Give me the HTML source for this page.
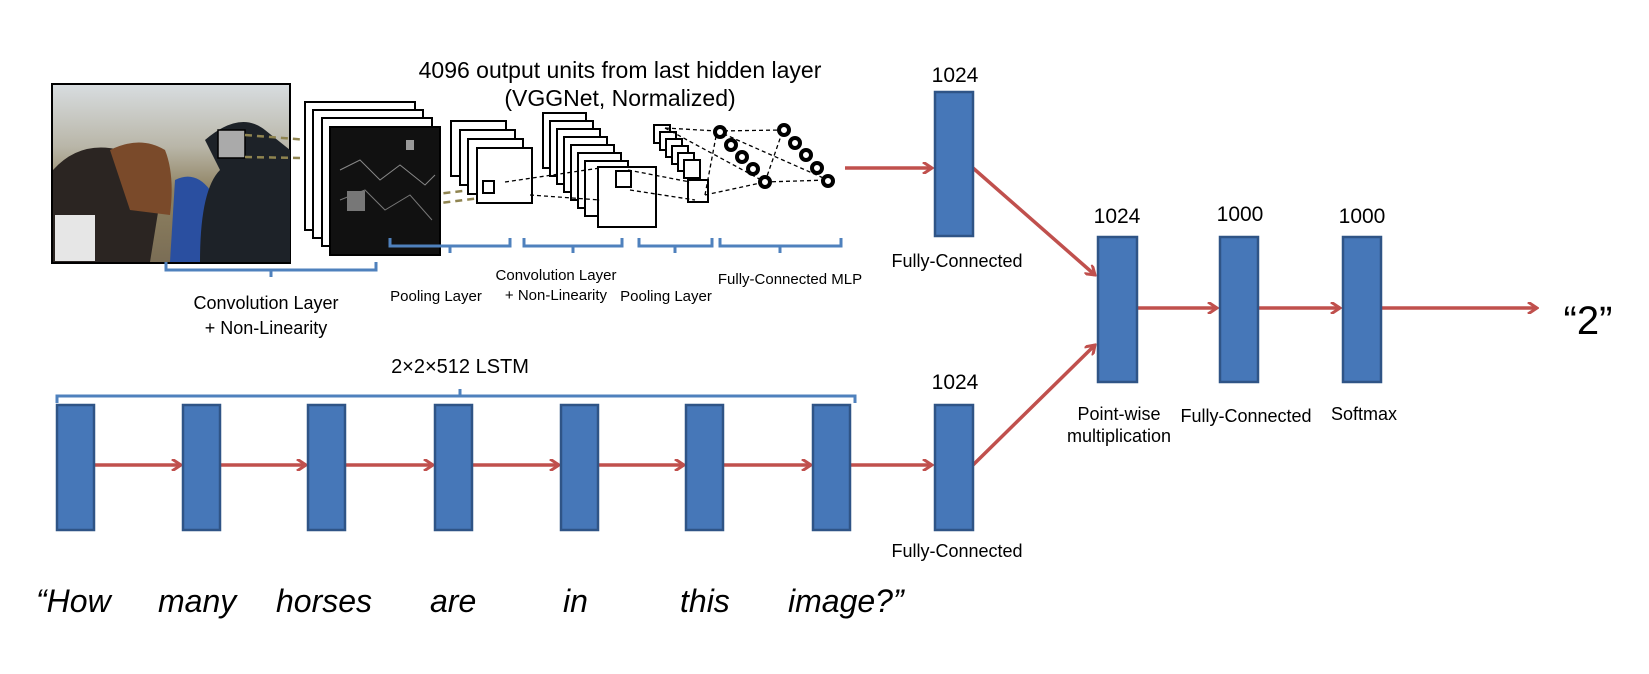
<!DOCTYPE html>
<html><head><style>
body{margin:0;background:#fff;}
svg text{font-family:"Liberation Sans",sans-serif;}
</style></head><body>
<svg width="1649" height="669" viewBox="0 0 1649 669" xmlns="http://www.w3.org/2000/svg">
<defs>
<marker id="ah" markerWidth="12" markerHeight="12" refX="10" refY="6" orient="auto" markerUnits="userSpaceOnUse">
<path d="M1,0 L10,6 L1,12" fill="none" stroke="#c0504d" stroke-width="3"/>
</marker>
<linearGradient id="sky" x1="0" y1="0" x2="0" y2="1">
<stop offset="0" stop-color="#d8dde0"/><stop offset="0.35" stop-color="#b9b6a8"/><stop offset="0.6" stop-color="#8e8160"/><stop offset="1" stop-color="#7a6d55"/>
</linearGradient>
</defs>
<rect x="52" y="84" width="238" height="179" fill="url(#sky)" stroke="#000" stroke-width="2"/>
<path d="M53,170 Q80,140 120,150 Q150,155 160,200 L150,262 L53,262Z" fill="#2b2522"/>
<path d="M110,150 Q140,135 165,150 Q175,175 170,215 L130,210Z" fill="#7a4a2a"/>
<rect x="55" y="215" width="40" height="46" fill="#e6e6e6"/>
<path d="M175,180 Q195,170 210,190 L215,262 L170,262Z" fill="#2a4fa0"/>
<path d="M205,140 Q240,110 265,130 L290,150 L290,262 L200,262 Q200,190 220,170Z" fill="#1d2228"/>
<rect x="218" y="130" width="27" height="28" fill="#aaa" stroke="#000" stroke-width="1.5"/>
<g stroke="#8f8450" stroke-width="2.5" stroke-dasharray="7,5" fill="none">
<line x1="245" y1="135" x2="410" y2="148"/><line x1="245" y1="157" x2="410" y2="160"/>
<line x1="360" y1="203" x2="488" y2="188"/><line x1="360" y1="213" x2="488" y2="197"/>
</g>
<g fill="#fff" stroke="#000" stroke-width="2">
<rect x="305" y="102" width="110" height="128"/><rect x="313" y="110" width="110" height="128"/><rect x="322" y="118" width="110" height="128"/>
</g>
<rect x="330" y="127" width="110" height="128" fill="#111" stroke="#000" stroke-width="2"/>
<path d="M340,170 L360,160 L380,180 L400,165 L425,185 L435,175" stroke="#888" fill="none"/>
<path d="M340,200 L365,190 L385,210 L410,195 L432,220" stroke="#777" fill="none"/>
<rect x="406" y="140" width="8" height="10" fill="#999"/>
<rect x="347" y="191" width="18" height="20" fill="#777"/>
<g fill="#fff" stroke="#000" stroke-width="2">
<rect x="451" y="121" width="55" height="55"/><rect x="460" y="130" width="55" height="55"/><rect x="468" y="139" width="55" height="55"/><rect x="477" y="148" width="55" height="55"/>
<rect x="483" y="181" width="11" height="12" fill="none"/>
<rect x="543" y="113" width="43" height="55"/><rect x="550" y="121" width="43" height="55"/><rect x="557" y="129" width="43" height="55"/><rect x="564" y="137" width="43" height="55"/><rect x="571" y="145" width="43" height="55"/><rect x="578" y="153" width="43" height="55"/><rect x="585" y="161" width="43" height="55"/>
<rect x="598" y="167" width="58" height="60"/>
<rect x="616" y="171" width="15" height="16" fill="none"/>
<rect x="654" y="125" width="16" height="18"/><rect x="660" y="132" width="16" height="18"/><rect x="666" y="139" width="16" height="18"/><rect x="672" y="146" width="16" height="18"/><rect x="678" y="153" width="16" height="18"/><rect x="684" y="160" width="16" height="18"/>
<rect x="688" y="180" width="20" height="22"/>
</g>
<g stroke="#000" stroke-width="1.3" stroke-dasharray="4,3" fill="none">
<line x1="505" y1="182" x2="600" y2="168"/><line x1="530" y1="195" x2="600" y2="200"/>
<line x1="628" y1="170" x2="690" y2="182"/><line x1="630" y1="190" x2="695" y2="200"/>
<line x1="665" y1="128" x2="717" y2="131"/><line x1="665" y1="128" x2="765" y2="182"/>
<line x1="705" y1="195" x2="765" y2="182"/><line x1="705" y1="195" x2="717" y2="131"/>
<line x1="717" y1="131" x2="783" y2="130"/><line x1="765" y1="182" x2="828" y2="180"/>
<line x1="717" y1="131" x2="828" y2="180"/><line x1="765" y1="182" x2="783" y2="130"/>
</g>
<g fill="#fff" stroke="#000" stroke-width="4">
<circle cx="720" cy="132" r="5"/><circle cx="731" cy="145" r="5"/><circle cx="742" cy="157" r="5"/><circle cx="753" cy="169" r="5"/><circle cx="765" cy="182" r="5"/>
<circle cx="784" cy="130" r="5"/><circle cx="795" cy="143" r="5"/><circle cx="806" cy="155" r="5"/><circle cx="817" cy="168" r="5"/><circle cx="828" cy="181" r="5"/>
</g>
<g stroke="#4f81bd" stroke-width="3" fill="none">
<path d="M166,262 V270 H376 V262 M271,270 V277"/>
<path d="M390,238 V246 H510 V238 M450,246 V253"/>
<path d="M524,238 V246 H622 V238 M573,246 V253"/>
<path d="M639,238 V246 H712 V238 M675,246 V253"/>
<path d="M720,238 V246 H841 V238 M780,246 V253"/>
<path d="M57,403 V396 H855 V403 M460,396 V389"/>
</g>
<g font-size="18" fill="#000" text-anchor="middle">
<text x="266" y="309">Convolution Layer</text>
<text x="266" y="334">+ Non-Linearity</text>
<text x="436" y="301" font-size="15">Pooling Layer</text>
<text x="556" y="280" font-size="15">Convolution Layer</text>
<text x="556" y="300" font-size="15">+ Non-Linearity</text>
<text x="666" y="301" font-size="15">Pooling  Layer</text>
<text x="790" y="284" font-size="15">Fully-Connected MLP</text>
<text x="620" y="78" font-size="23">4096 output  units from last hidden layer</text>
<text x="620" y="106" font-size="23">(VGGNet, Normalized)</text>
<text x="955" y="82" font-size="21">1024</text>
<text x="1117" y="223" font-size="21">1024</text>
<text x="1240" y="221" font-size="21">1000</text>
<text x="1362" y="223" font-size="21">1000</text>
<text x="955" y="389" font-size="21">1024</text>
<text x="957" y="267">Fully-Connected</text>
<text x="957" y="557">Fully-Connected</text>
<text x="1119" y="420">Point-wise</text>
<text x="1119" y="442">multiplication</text>
<text x="1246" y="422">Fully-Connected</text>
<text x="1364" y="420">Softmax</text>
<text x="460" y="373" font-size="20">2×2×512 LSTM</text>
<text x="1588" y="334" font-size="40">“2”</text>
</g>
<g font-size="32" font-style="italic" fill="#000">
<text x="36" y="612">“How</text><text x="158" y="612">many</text><text x="276" y="612">horses</text>
<text x="430" y="612">are</text><text x="563" y="612">in</text><text x="680" y="612">this</text><text x="788" y="612">image?”</text>
</g>
<g stroke="#c0504d" stroke-width="3.5" fill="none" marker-end="url(#ah)">
<line x1="845" y1="168" x2="932" y2="168"/>
<line x1="973" y1="168" x2="1095" y2="275"/>
<line x1="973" y1="465" x2="1095" y2="345"/>
<line x1="1137" y1="308" x2="1217" y2="308"/>
<line x1="1258" y1="308" x2="1340" y2="308"/>
<line x1="1382" y1="308" x2="1537" y2="308"/>
<line x1="94" y1="465" x2="181" y2="465"/>
<line x1="220" y1="465" x2="306" y2="465"/>
<line x1="345" y1="465" x2="433" y2="465"/>
<line x1="472" y1="465" x2="559" y2="465"/>
<line x1="598" y1="465" x2="684" y2="465"/>
<line x1="723" y1="465" x2="811" y2="465"/>
<line x1="850" y1="465" x2="932" y2="465"/>
</g>
<g fill="#4677b8" stroke="#2f5486" stroke-width="2.5">
<rect x="935" y="92" width="38" height="144"/>
<rect x="1098" y="237" width="39" height="145"/>
<rect x="1220" y="237" width="38" height="145"/>
<rect x="1343" y="237" width="38" height="145"/>
<rect x="935" y="405" width="38" height="125"/>
<rect x="57" y="405" width="37" height="125"/><rect x="183" y="405" width="37" height="125"/><rect x="308" y="405" width="37" height="125"/><rect x="435" y="405" width="37" height="125"/><rect x="561" y="405" width="37" height="125"/><rect x="686" y="405" width="37" height="125"/><rect x="813" y="405" width="37" height="125"/>
</g>
</svg>
</body></html>
